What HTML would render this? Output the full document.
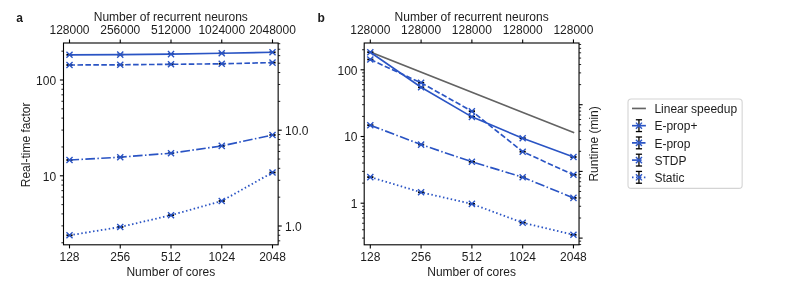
<!DOCTYPE html>
<html><head><meta charset="utf-8"><title>Figure</title>
<style>html,body{margin:0;padding:0;background:#fff}svg{display:block;will-change:transform}</style></head>
<body>
<svg width="793" height="288" viewBox="0 0 793 288" font-family="'Liberation Sans', sans-serif" fill="#1c1c1c">
<rect width="793" height="288" fill="#fff"/>
<line x1="69.50" y1="43.00" x2="69.50" y2="39.40" stroke="#000" stroke-width="1.1" />
<line x1="69.50" y1="244.80" x2="69.50" y2="248.40" stroke="#000" stroke-width="1.1" />
<text x="69.50" y="33.70" text-anchor="middle" font-weight="normal" font-size="12.0" >128000</text>
<text x="69.50" y="260.50" text-anchor="middle" font-weight="normal" font-size="12.0" >128</text>
<line x1="120.25" y1="43.00" x2="120.25" y2="39.40" stroke="#000" stroke-width="1.1" />
<line x1="120.25" y1="244.80" x2="120.25" y2="248.40" stroke="#000" stroke-width="1.1" />
<text x="120.25" y="33.70" text-anchor="middle" font-weight="normal" font-size="12.0" >256000</text>
<text x="120.25" y="260.50" text-anchor="middle" font-weight="normal" font-size="12.0" >256</text>
<line x1="171.00" y1="43.00" x2="171.00" y2="39.40" stroke="#000" stroke-width="1.1" />
<line x1="171.00" y1="244.80" x2="171.00" y2="248.40" stroke="#000" stroke-width="1.1" />
<text x="171.00" y="33.70" text-anchor="middle" font-weight="normal" font-size="12.0" >512000</text>
<text x="171.00" y="260.50" text-anchor="middle" font-weight="normal" font-size="12.0" >512</text>
<line x1="221.75" y1="43.00" x2="221.75" y2="39.40" stroke="#000" stroke-width="1.1" />
<line x1="221.75" y1="244.80" x2="221.75" y2="248.40" stroke="#000" stroke-width="1.1" />
<text x="221.75" y="33.70" text-anchor="middle" font-weight="normal" font-size="12.0" >1024000</text>
<text x="221.75" y="260.50" text-anchor="middle" font-weight="normal" font-size="12.0" >1024</text>
<line x1="272.50" y1="43.00" x2="272.50" y2="39.40" stroke="#000" stroke-width="1.1" />
<line x1="272.50" y1="244.80" x2="272.50" y2="248.40" stroke="#000" stroke-width="1.1" />
<text x="272.50" y="33.70" text-anchor="middle" font-weight="normal" font-size="12.0" >2048000</text>
<text x="272.50" y="260.50" text-anchor="middle" font-weight="normal" font-size="12.0" >2048</text>
<text x="170.82" y="21.10" text-anchor="middle" font-weight="normal" font-size="12.0" >Number of recurrent neurons</text>
<text x="170.82" y="275.90" text-anchor="middle" font-weight="normal" font-size="12.0" >Number of cores</text>
<line x1="63.50" y1="175.80" x2="59.90" y2="175.80" stroke="#000" stroke-width="1.1" />
<text x="56.10" y="180.65" text-anchor="end" font-weight="normal" font-size="12.0" >10</text>
<line x1="63.50" y1="80.00" x2="59.90" y2="80.00" stroke="#000" stroke-width="1.1" />
<text x="56.10" y="84.85" text-anchor="end" font-weight="normal" font-size="12.0" >100</text>
<line x1="63.50" y1="242.76" x2="61.40" y2="242.76" stroke="#000" stroke-width="0.85" />
<line x1="63.50" y1="225.89" x2="61.40" y2="225.89" stroke="#000" stroke-width="0.85" />
<line x1="63.50" y1="213.92" x2="61.40" y2="213.92" stroke="#000" stroke-width="0.85" />
<line x1="63.50" y1="204.64" x2="61.40" y2="204.64" stroke="#000" stroke-width="0.85" />
<line x1="63.50" y1="197.05" x2="61.40" y2="197.05" stroke="#000" stroke-width="0.85" />
<line x1="63.50" y1="190.64" x2="61.40" y2="190.64" stroke="#000" stroke-width="0.85" />
<line x1="63.50" y1="185.08" x2="61.40" y2="185.08" stroke="#000" stroke-width="0.85" />
<line x1="63.50" y1="180.18" x2="61.40" y2="180.18" stroke="#000" stroke-width="0.85" />
<line x1="63.50" y1="146.96" x2="61.40" y2="146.96" stroke="#000" stroke-width="0.85" />
<line x1="63.50" y1="130.09" x2="61.40" y2="130.09" stroke="#000" stroke-width="0.85" />
<line x1="63.50" y1="118.12" x2="61.40" y2="118.12" stroke="#000" stroke-width="0.85" />
<line x1="63.50" y1="108.84" x2="61.40" y2="108.84" stroke="#000" stroke-width="0.85" />
<line x1="63.50" y1="101.25" x2="61.40" y2="101.25" stroke="#000" stroke-width="0.85" />
<line x1="63.50" y1="94.84" x2="61.40" y2="94.84" stroke="#000" stroke-width="0.85" />
<line x1="63.50" y1="89.28" x2="61.40" y2="89.28" stroke="#000" stroke-width="0.85" />
<line x1="63.50" y1="84.38" x2="61.40" y2="84.38" stroke="#000" stroke-width="0.85" />
<line x1="63.50" y1="51.16" x2="61.40" y2="51.16" stroke="#000" stroke-width="0.85" />
<line x1="278.15" y1="226.00" x2="281.75" y2="226.00" stroke="#000" stroke-width="1.1" />
<text x="285.05" y="230.85" text-anchor="start" font-weight="normal" font-size="12.0" >1.0</text>
<line x1="278.15" y1="130.20" x2="281.75" y2="130.20" stroke="#000" stroke-width="1.1" />
<text x="285.05" y="135.05" text-anchor="start" font-weight="normal" font-size="12.0" >10.0</text>
<line x1="278.15" y1="240.84" x2="280.25" y2="240.84" stroke="#000" stroke-width="0.85" />
<line x1="278.15" y1="235.28" x2="280.25" y2="235.28" stroke="#000" stroke-width="0.85" />
<line x1="278.15" y1="230.38" x2="280.25" y2="230.38" stroke="#000" stroke-width="0.85" />
<line x1="278.15" y1="197.16" x2="280.25" y2="197.16" stroke="#000" stroke-width="0.85" />
<line x1="278.15" y1="180.29" x2="280.25" y2="180.29" stroke="#000" stroke-width="0.85" />
<line x1="278.15" y1="168.32" x2="280.25" y2="168.32" stroke="#000" stroke-width="0.85" />
<line x1="278.15" y1="159.04" x2="280.25" y2="159.04" stroke="#000" stroke-width="0.85" />
<line x1="278.15" y1="151.45" x2="280.25" y2="151.45" stroke="#000" stroke-width="0.85" />
<line x1="278.15" y1="145.04" x2="280.25" y2="145.04" stroke="#000" stroke-width="0.85" />
<line x1="278.15" y1="139.48" x2="280.25" y2="139.48" stroke="#000" stroke-width="0.85" />
<line x1="278.15" y1="134.58" x2="280.25" y2="134.58" stroke="#000" stroke-width="0.85" />
<line x1="278.15" y1="101.36" x2="280.25" y2="101.36" stroke="#000" stroke-width="0.85" />
<line x1="278.15" y1="84.49" x2="280.25" y2="84.49" stroke="#000" stroke-width="0.85" />
<line x1="278.15" y1="72.52" x2="280.25" y2="72.52" stroke="#000" stroke-width="0.85" />
<line x1="278.15" y1="63.24" x2="280.25" y2="63.24" stroke="#000" stroke-width="0.85" />
<line x1="278.15" y1="55.65" x2="280.25" y2="55.65" stroke="#000" stroke-width="0.85" />
<line x1="278.15" y1="49.24" x2="280.25" y2="49.24" stroke="#000" stroke-width="0.85" />
<line x1="278.15" y1="43.68" x2="280.25" y2="43.68" stroke="#000" stroke-width="0.85" />
<rect x="63.50" y="43.00" width="214.65" height="201.80" fill="none" stroke="#000" stroke-width="1.1"/>
<text transform="translate(30.00,144.90) rotate(-90)" text-anchor="middle" font-size="12.0">Real-time factor</text>
<text x="16.30" y="21.80" text-anchor="start" font-weight="bold" font-size="12.0" >a</text>
<line x1="66.40" y1="54.80" x2="72.60" y2="54.80" stroke="#000" stroke-width="1.8" />
<line x1="117.15" y1="54.60" x2="123.35" y2="54.60" stroke="#000" stroke-width="1.8" />
<line x1="167.90" y1="54.10" x2="174.10" y2="54.10" stroke="#000" stroke-width="1.8" />
<line x1="218.65" y1="53.30" x2="224.85" y2="53.30" stroke="#000" stroke-width="1.8" />
<line x1="269.40" y1="52.30" x2="275.60" y2="52.30" stroke="#000" stroke-width="1.8" />
<polyline points="69.50,54.80 120.25,54.60 171.00,54.10 221.75,53.30 272.50,52.30" fill="none" stroke="#2a54c4" stroke-width="1.65" stroke-linejoin="round" stroke-linecap="square" />
<path d="M66.45 51.75L72.55 57.85M66.45 57.85L72.55 51.75" stroke="#2a54c4" stroke-width="1.35" fill="none"/>
<path d="M117.20 51.55L123.30 57.65M117.20 57.65L123.30 51.55" stroke="#2a54c4" stroke-width="1.35" fill="none"/>
<path d="M167.95 51.05L174.05 57.15M167.95 57.15L174.05 51.05" stroke="#2a54c4" stroke-width="1.35" fill="none"/>
<path d="M218.70 50.25L224.80 56.35M218.70 56.35L224.80 50.25" stroke="#2a54c4" stroke-width="1.35" fill="none"/>
<path d="M269.45 49.25L275.55 55.35M269.45 55.35L275.55 49.25" stroke="#2a54c4" stroke-width="1.35" fill="none"/>
<line x1="66.40" y1="65.00" x2="72.60" y2="65.00" stroke="#000" stroke-width="1.8" />
<line x1="117.15" y1="64.80" x2="123.35" y2="64.80" stroke="#000" stroke-width="1.8" />
<line x1="167.90" y1="64.30" x2="174.10" y2="64.30" stroke="#000" stroke-width="1.8" />
<line x1="218.65" y1="63.80" x2="224.85" y2="63.80" stroke="#000" stroke-width="1.8" />
<line x1="269.40" y1="62.60" x2="275.60" y2="62.60" stroke="#000" stroke-width="1.8" />
<polyline points="69.50,65.00 120.25,64.80 171.00,64.30 221.75,63.80 272.50,62.60" fill="none" stroke="#2a54c4" stroke-width="1.65" stroke-linejoin="round"  stroke-dasharray="5.55 2.40"/>
<path d="M66.45 61.95L72.55 68.05M66.45 68.05L72.55 61.95" stroke="#2a54c4" stroke-width="1.35" fill="none"/>
<path d="M117.20 61.75L123.30 67.85M117.20 67.85L123.30 61.75" stroke="#2a54c4" stroke-width="1.35" fill="none"/>
<path d="M167.95 61.25L174.05 67.35M167.95 67.35L174.05 61.25" stroke="#2a54c4" stroke-width="1.35" fill="none"/>
<path d="M218.70 60.75L224.80 66.85M218.70 66.85L224.80 60.75" stroke="#2a54c4" stroke-width="1.35" fill="none"/>
<path d="M269.45 59.55L275.55 65.65M269.45 65.65L275.55 59.55" stroke="#2a54c4" stroke-width="1.35" fill="none"/>
<line x1="66.40" y1="160.00" x2="72.60" y2="160.00" stroke="#000" stroke-width="1.8" />
<line x1="117.15" y1="157.20" x2="123.35" y2="157.20" stroke="#000" stroke-width="1.8" />
<line x1="167.90" y1="153.20" x2="174.10" y2="153.20" stroke="#000" stroke-width="1.8" />
<line x1="218.65" y1="145.90" x2="224.85" y2="145.90" stroke="#000" stroke-width="1.8" />
<line x1="269.40" y1="135.00" x2="275.60" y2="135.00" stroke="#000" stroke-width="1.8" />
<polyline points="69.50,160.00 120.25,157.20 171.00,153.20 221.75,145.90 272.50,135.00" fill="none" stroke="#2a54c4" stroke-width="1.65" stroke-linejoin="round"  stroke-dasharray="9.60 2.40 1.50 2.40"/>
<path d="M66.45 156.95L72.55 163.05M66.45 163.05L72.55 156.95" stroke="#2a54c4" stroke-width="1.35" fill="none"/>
<path d="M117.20 154.15L123.30 160.25M117.20 160.25L123.30 154.15" stroke="#2a54c4" stroke-width="1.35" fill="none"/>
<path d="M167.95 150.15L174.05 156.25M167.95 156.25L174.05 150.15" stroke="#2a54c4" stroke-width="1.35" fill="none"/>
<path d="M218.70 142.85L224.80 148.95M218.70 148.95L224.80 142.85" stroke="#2a54c4" stroke-width="1.35" fill="none"/>
<path d="M269.45 131.95L275.55 138.05M269.45 138.05L275.55 131.95" stroke="#2a54c4" stroke-width="1.35" fill="none"/>
<line x1="66.40" y1="235.30" x2="72.60" y2="235.30" stroke="#000" stroke-width="1.8" />
<line x1="117.15" y1="227.00" x2="123.35" y2="227.00" stroke="#000" stroke-width="1.8" />
<line x1="167.90" y1="215.20" x2="174.10" y2="215.20" stroke="#000" stroke-width="1.8" />
<line x1="218.65" y1="201.00" x2="224.85" y2="201.00" stroke="#000" stroke-width="1.8" />
<line x1="269.40" y1="172.50" x2="275.60" y2="172.50" stroke="#000" stroke-width="1.8" />
<polyline points="69.50,235.30 120.25,227.00 171.00,215.20 221.75,201.00 272.50,172.50" fill="none" stroke="#2a54c4" stroke-width="1.8" stroke-linejoin="round"  stroke-dasharray="1.50 2.47"/>
<path d="M66.45 232.25L72.55 238.35M66.45 238.35L72.55 232.25" stroke="#2a54c4" stroke-width="1.35" fill="none"/>
<path d="M117.20 223.95L123.30 230.05M117.20 230.05L123.30 223.95" stroke="#2a54c4" stroke-width="1.35" fill="none"/>
<path d="M167.95 212.15L174.05 218.25M167.95 218.25L174.05 212.15" stroke="#2a54c4" stroke-width="1.35" fill="none"/>
<path d="M218.70 197.95L224.80 204.05M218.70 204.05L224.80 197.95" stroke="#2a54c4" stroke-width="1.35" fill="none"/>
<path d="M269.45 169.45L275.55 175.55M269.45 175.55L275.55 169.45" stroke="#2a54c4" stroke-width="1.35" fill="none"/>
<line x1="370.30" y1="43.00" x2="370.30" y2="39.40" stroke="#000" stroke-width="1.1" />
<line x1="370.30" y1="244.80" x2="370.30" y2="248.40" stroke="#000" stroke-width="1.1" />
<text x="370.30" y="33.70" text-anchor="middle" font-weight="normal" font-size="12.0" >128000</text>
<text x="370.30" y="260.50" text-anchor="middle" font-weight="normal" font-size="12.0" >128</text>
<line x1="421.09" y1="43.00" x2="421.09" y2="39.40" stroke="#000" stroke-width="1.1" />
<line x1="421.09" y1="244.80" x2="421.09" y2="248.40" stroke="#000" stroke-width="1.1" />
<text x="421.09" y="33.70" text-anchor="middle" font-weight="normal" font-size="12.0" >128000</text>
<text x="421.09" y="260.50" text-anchor="middle" font-weight="normal" font-size="12.0" >256</text>
<line x1="471.88" y1="43.00" x2="471.88" y2="39.40" stroke="#000" stroke-width="1.1" />
<line x1="471.88" y1="244.80" x2="471.88" y2="248.40" stroke="#000" stroke-width="1.1" />
<text x="471.88" y="33.70" text-anchor="middle" font-weight="normal" font-size="12.0" >128000</text>
<text x="471.88" y="260.50" text-anchor="middle" font-weight="normal" font-size="12.0" >512</text>
<line x1="522.67" y1="43.00" x2="522.67" y2="39.40" stroke="#000" stroke-width="1.1" />
<line x1="522.67" y1="244.80" x2="522.67" y2="248.40" stroke="#000" stroke-width="1.1" />
<text x="522.67" y="33.70" text-anchor="middle" font-weight="normal" font-size="12.0" >128000</text>
<text x="522.67" y="260.50" text-anchor="middle" font-weight="normal" font-size="12.0" >1024</text>
<line x1="573.46" y1="43.00" x2="573.46" y2="39.40" stroke="#000" stroke-width="1.1" />
<line x1="573.46" y1="244.80" x2="573.46" y2="248.40" stroke="#000" stroke-width="1.1" />
<text x="573.46" y="33.70" text-anchor="middle" font-weight="normal" font-size="12.0" >128000</text>
<text x="573.46" y="260.50" text-anchor="middle" font-weight="normal" font-size="12.0" >2048</text>
<text x="471.62" y="21.10" text-anchor="middle" font-weight="normal" font-size="12.0" >Number of recurrent neurons</text>
<text x="471.62" y="275.90" text-anchor="middle" font-weight="normal" font-size="12.0" >Number of cores</text>
<line x1="364.20" y1="203.20" x2="360.60" y2="203.20" stroke="#000" stroke-width="1.1" />
<text x="357.50" y="208.05" text-anchor="end" font-weight="normal" font-size="12.0" >1</text>
<line x1="364.20" y1="136.50" x2="360.60" y2="136.50" stroke="#000" stroke-width="1.1" />
<text x="357.50" y="141.35" text-anchor="end" font-weight="normal" font-size="12.0" >10</text>
<line x1="364.20" y1="69.80" x2="360.60" y2="69.80" stroke="#000" stroke-width="1.1" />
<text x="357.50" y="74.65" text-anchor="end" font-weight="normal" font-size="12.0" >100</text>
<line x1="364.20" y1="238.08" x2="362.10" y2="238.08" stroke="#000" stroke-width="0.85" />
<line x1="364.20" y1="229.74" x2="362.10" y2="229.74" stroke="#000" stroke-width="0.85" />
<line x1="364.20" y1="223.28" x2="362.10" y2="223.28" stroke="#000" stroke-width="0.85" />
<line x1="364.20" y1="218.00" x2="362.10" y2="218.00" stroke="#000" stroke-width="0.85" />
<line x1="364.20" y1="213.53" x2="362.10" y2="213.53" stroke="#000" stroke-width="0.85" />
<line x1="364.20" y1="209.66" x2="362.10" y2="209.66" stroke="#000" stroke-width="0.85" />
<line x1="364.20" y1="206.25" x2="362.10" y2="206.25" stroke="#000" stroke-width="0.85" />
<line x1="364.20" y1="183.12" x2="362.10" y2="183.12" stroke="#000" stroke-width="0.85" />
<line x1="364.20" y1="171.38" x2="362.10" y2="171.38" stroke="#000" stroke-width="0.85" />
<line x1="364.20" y1="163.04" x2="362.10" y2="163.04" stroke="#000" stroke-width="0.85" />
<line x1="364.20" y1="156.58" x2="362.10" y2="156.58" stroke="#000" stroke-width="0.85" />
<line x1="364.20" y1="151.30" x2="362.10" y2="151.30" stroke="#000" stroke-width="0.85" />
<line x1="364.20" y1="146.83" x2="362.10" y2="146.83" stroke="#000" stroke-width="0.85" />
<line x1="364.20" y1="142.96" x2="362.10" y2="142.96" stroke="#000" stroke-width="0.85" />
<line x1="364.20" y1="139.55" x2="362.10" y2="139.55" stroke="#000" stroke-width="0.85" />
<line x1="364.20" y1="116.42" x2="362.10" y2="116.42" stroke="#000" stroke-width="0.85" />
<line x1="364.20" y1="104.68" x2="362.10" y2="104.68" stroke="#000" stroke-width="0.85" />
<line x1="364.20" y1="96.34" x2="362.10" y2="96.34" stroke="#000" stroke-width="0.85" />
<line x1="364.20" y1="89.88" x2="362.10" y2="89.88" stroke="#000" stroke-width="0.85" />
<line x1="364.20" y1="84.60" x2="362.10" y2="84.60" stroke="#000" stroke-width="0.85" />
<line x1="364.20" y1="80.13" x2="362.10" y2="80.13" stroke="#000" stroke-width="0.85" />
<line x1="364.20" y1="76.26" x2="362.10" y2="76.26" stroke="#000" stroke-width="0.85" />
<line x1="364.20" y1="72.85" x2="362.10" y2="72.85" stroke="#000" stroke-width="0.85" />
<line x1="364.20" y1="49.72" x2="362.10" y2="49.72" stroke="#000" stroke-width="0.85" />
<line x1="579.03" y1="238.10" x2="582.63" y2="238.10" stroke="#000" stroke-width="1.1" />
<line x1="579.03" y1="171.40" x2="582.63" y2="171.40" stroke="#000" stroke-width="1.1" />
<line x1="579.03" y1="104.70" x2="582.63" y2="104.70" stroke="#000" stroke-width="1.1" />
<line x1="579.03" y1="244.56" x2="581.13" y2="244.56" stroke="#000" stroke-width="0.85" />
<line x1="579.03" y1="241.15" x2="581.13" y2="241.15" stroke="#000" stroke-width="0.85" />
<line x1="579.03" y1="218.02" x2="581.13" y2="218.02" stroke="#000" stroke-width="0.85" />
<line x1="579.03" y1="206.28" x2="581.13" y2="206.28" stroke="#000" stroke-width="0.85" />
<line x1="579.03" y1="197.94" x2="581.13" y2="197.94" stroke="#000" stroke-width="0.85" />
<line x1="579.03" y1="191.48" x2="581.13" y2="191.48" stroke="#000" stroke-width="0.85" />
<line x1="579.03" y1="186.20" x2="581.13" y2="186.20" stroke="#000" stroke-width="0.85" />
<line x1="579.03" y1="181.73" x2="581.13" y2="181.73" stroke="#000" stroke-width="0.85" />
<line x1="579.03" y1="177.86" x2="581.13" y2="177.86" stroke="#000" stroke-width="0.85" />
<line x1="579.03" y1="174.45" x2="581.13" y2="174.45" stroke="#000" stroke-width="0.85" />
<line x1="579.03" y1="151.32" x2="581.13" y2="151.32" stroke="#000" stroke-width="0.85" />
<line x1="579.03" y1="139.58" x2="581.13" y2="139.58" stroke="#000" stroke-width="0.85" />
<line x1="579.03" y1="131.24" x2="581.13" y2="131.24" stroke="#000" stroke-width="0.85" />
<line x1="579.03" y1="124.78" x2="581.13" y2="124.78" stroke="#000" stroke-width="0.85" />
<line x1="579.03" y1="119.50" x2="581.13" y2="119.50" stroke="#000" stroke-width="0.85" />
<line x1="579.03" y1="115.03" x2="581.13" y2="115.03" stroke="#000" stroke-width="0.85" />
<line x1="579.03" y1="111.16" x2="581.13" y2="111.16" stroke="#000" stroke-width="0.85" />
<line x1="579.03" y1="107.75" x2="581.13" y2="107.75" stroke="#000" stroke-width="0.85" />
<line x1="579.03" y1="84.62" x2="581.13" y2="84.62" stroke="#000" stroke-width="0.85" />
<line x1="579.03" y1="72.88" x2="581.13" y2="72.88" stroke="#000" stroke-width="0.85" />
<line x1="579.03" y1="64.54" x2="581.13" y2="64.54" stroke="#000" stroke-width="0.85" />
<line x1="579.03" y1="58.08" x2="581.13" y2="58.08" stroke="#000" stroke-width="0.85" />
<line x1="579.03" y1="52.80" x2="581.13" y2="52.80" stroke="#000" stroke-width="0.85" />
<line x1="579.03" y1="48.33" x2="581.13" y2="48.33" stroke="#000" stroke-width="0.85" />
<line x1="579.03" y1="44.46" x2="581.13" y2="44.46" stroke="#000" stroke-width="0.85" />
<rect x="364.20" y="43.00" width="214.83" height="201.80" fill="none" stroke="#000" stroke-width="1.1"/>
<text transform="translate(598.30,143.90) rotate(-90)" text-anchor="middle" font-size="12.0">Runtime (min)</text>
<text x="317.40" y="21.80" text-anchor="start" font-weight="bold" font-size="12.0" >b</text>
<line x1="370.30" y1="51.95" x2="573.46" y2="132.5" stroke="#636363" stroke-width="1.65" stroke-linecap="square"/>
<line x1="367.20" y1="52.20" x2="373.40" y2="52.20" stroke="#000" stroke-width="1.8" />
<line x1="417.99" y1="87.30" x2="424.19" y2="87.30" stroke="#000" stroke-width="1.8" />
<line x1="468.78" y1="116.85" x2="474.98" y2="116.85" stroke="#000" stroke-width="1.8" />
<line x1="519.57" y1="138.20" x2="525.77" y2="138.20" stroke="#000" stroke-width="1.8" />
<line x1="570.36" y1="157.00" x2="576.56" y2="157.00" stroke="#000" stroke-width="1.8" />
<polyline points="370.30,52.20 421.09,87.30 471.88,116.85 522.67,138.20 573.46,157.00" fill="none" stroke="#2a54c4" stroke-width="1.65" stroke-linejoin="round" stroke-linecap="square" />
<path d="M367.25 49.15L373.35 55.25M367.25 55.25L373.35 49.15" stroke="#2a54c4" stroke-width="1.35" fill="none"/>
<path d="M418.04 84.25L424.14 90.35M418.04 90.35L424.14 84.25" stroke="#2a54c4" stroke-width="1.35" fill="none"/>
<path d="M468.83 113.80L474.93 119.90M468.83 119.90L474.93 113.80" stroke="#2a54c4" stroke-width="1.35" fill="none"/>
<path d="M519.62 135.15L525.72 141.25M519.62 141.25L525.72 135.15" stroke="#2a54c4" stroke-width="1.35" fill="none"/>
<path d="M570.41 153.95L576.51 160.05M570.41 160.05L576.51 153.95" stroke="#2a54c4" stroke-width="1.35" fill="none"/>
<line x1="367.20" y1="59.50" x2="373.40" y2="59.50" stroke="#000" stroke-width="1.8" />
<line x1="417.99" y1="82.80" x2="424.19" y2="82.80" stroke="#000" stroke-width="1.8" />
<line x1="468.78" y1="111.20" x2="474.98" y2="111.20" stroke="#000" stroke-width="1.8" />
<line x1="519.57" y1="151.70" x2="525.77" y2="151.70" stroke="#000" stroke-width="1.8" />
<line x1="570.36" y1="174.80" x2="576.56" y2="174.80" stroke="#000" stroke-width="1.8" />
<polyline points="370.30,59.50 421.09,82.80 471.88,111.20 522.67,151.70 573.46,174.80" fill="none" stroke="#2a54c4" stroke-width="1.65" stroke-linejoin="round"  stroke-dasharray="5.55 2.40"/>
<path d="M367.25 56.45L373.35 62.55M367.25 62.55L373.35 56.45" stroke="#2a54c4" stroke-width="1.35" fill="none"/>
<path d="M418.04 79.75L424.14 85.85M418.04 85.85L424.14 79.75" stroke="#2a54c4" stroke-width="1.35" fill="none"/>
<path d="M468.83 108.15L474.93 114.25M468.83 114.25L474.93 108.15" stroke="#2a54c4" stroke-width="1.35" fill="none"/>
<path d="M519.62 148.65L525.72 154.75M519.62 154.75L525.72 148.65" stroke="#2a54c4" stroke-width="1.35" fill="none"/>
<path d="M570.41 171.75L576.51 177.85M570.41 177.85L576.51 171.75" stroke="#2a54c4" stroke-width="1.35" fill="none"/>
<line x1="367.20" y1="125.20" x2="373.40" y2="125.20" stroke="#000" stroke-width="1.8" />
<line x1="417.99" y1="144.60" x2="424.19" y2="144.60" stroke="#000" stroke-width="1.8" />
<line x1="468.78" y1="161.80" x2="474.98" y2="161.80" stroke="#000" stroke-width="1.8" />
<line x1="519.57" y1="177.20" x2="525.77" y2="177.20" stroke="#000" stroke-width="1.8" />
<line x1="570.36" y1="197.90" x2="576.56" y2="197.90" stroke="#000" stroke-width="1.8" />
<polyline points="370.30,125.20 421.09,144.60 471.88,161.80 522.67,177.20 573.46,197.90" fill="none" stroke="#2a54c4" stroke-width="1.65" stroke-linejoin="round"  stroke-dasharray="9.60 2.40 1.50 2.40"/>
<path d="M367.25 122.15L373.35 128.25M367.25 128.25L373.35 122.15" stroke="#2a54c4" stroke-width="1.35" fill="none"/>
<path d="M418.04 141.55L424.14 147.65M418.04 147.65L424.14 141.55" stroke="#2a54c4" stroke-width="1.35" fill="none"/>
<path d="M468.83 158.75L474.93 164.85M468.83 164.85L474.93 158.75" stroke="#2a54c4" stroke-width="1.35" fill="none"/>
<path d="M519.62 174.15L525.72 180.25M519.62 180.25L525.72 174.15" stroke="#2a54c4" stroke-width="1.35" fill="none"/>
<path d="M570.41 194.85L576.51 200.95M570.41 200.95L576.51 194.85" stroke="#2a54c4" stroke-width="1.35" fill="none"/>
<line x1="367.20" y1="177.10" x2="373.40" y2="177.10" stroke="#000" stroke-width="1.8" />
<line x1="417.99" y1="192.30" x2="424.19" y2="192.30" stroke="#000" stroke-width="1.8" />
<line x1="468.78" y1="203.90" x2="474.98" y2="203.90" stroke="#000" stroke-width="1.8" />
<line x1="519.57" y1="222.70" x2="525.77" y2="222.70" stroke="#000" stroke-width="1.8" />
<line x1="570.36" y1="234.80" x2="576.56" y2="234.80" stroke="#000" stroke-width="1.8" />
<polyline points="370.30,177.10 421.09,192.30 471.88,203.90 522.67,222.70 573.46,234.80" fill="none" stroke="#2a54c4" stroke-width="1.8" stroke-linejoin="round"  stroke-dasharray="1.50 2.47"/>
<path d="M367.25 174.05L373.35 180.15M367.25 180.15L373.35 174.05" stroke="#2a54c4" stroke-width="1.35" fill="none"/>
<path d="M418.04 189.25L424.14 195.35M418.04 195.35L424.14 189.25" stroke="#2a54c4" stroke-width="1.35" fill="none"/>
<path d="M468.83 200.85L474.93 206.95M468.83 206.95L474.93 200.85" stroke="#2a54c4" stroke-width="1.35" fill="none"/>
<path d="M519.62 219.65L525.72 225.75M519.62 225.75L525.72 219.65" stroke="#2a54c4" stroke-width="1.35" fill="none"/>
<path d="M570.41 231.75L576.51 237.85M570.41 237.85L576.51 231.75" stroke="#2a54c4" stroke-width="1.35" fill="none"/>
<rect x="628" y="98.95" width="114.15" height="89.45" rx="3.2" ry="3.2" fill="#fff" stroke="#d4d4d4" stroke-width="1.1"/>
<line x1="632.00" y1="108.45" x2="645.90" y2="108.45" stroke="#636363" stroke-width="1.65" />
<text x="654.40" y="113.25" text-anchor="start" font-weight="normal" font-size="12.0" >Linear speedup</text>
<line x1="638.95" y1="119.77" x2="638.95" y2="131.57" stroke="#000" stroke-width="1.3" />
<line x1="635.85" y1="119.77" x2="642.05" y2="119.77" stroke="#000" stroke-width="1.3" />
<line x1="635.85" y1="131.57" x2="642.05" y2="131.57" stroke="#000" stroke-width="1.3" />
<line x1="632.0" y1="125.67" x2="645.9" y2="125.67" stroke="#2a54c4" stroke-width="1.65" />
<path d="M635.90 122.62L642.00 128.72M635.90 128.72L642.00 122.62" stroke="#2a54c4" stroke-width="1.35" fill="none"/>
<text x="654.40" y="130.47" text-anchor="start" font-weight="normal" font-size="12.0" >E-prop+</text>
<line x1="638.95" y1="136.99" x2="638.95" y2="148.79" stroke="#000" stroke-width="1.3" />
<line x1="635.85" y1="136.99" x2="642.05" y2="136.99" stroke="#000" stroke-width="1.3" />
<line x1="635.85" y1="148.79" x2="642.05" y2="148.79" stroke="#000" stroke-width="1.3" />
<line x1="632.0" y1="142.89" x2="645.9" y2="142.89" stroke="#2a54c4" stroke-width="1.65" stroke-dasharray="5.55 2.40"/>
<path d="M635.90 139.84L642.00 145.94M635.90 145.94L642.00 139.84" stroke="#2a54c4" stroke-width="1.35" fill="none"/>
<text x="654.40" y="147.69" text-anchor="start" font-weight="normal" font-size="12.0" >E-prop</text>
<line x1="638.95" y1="154.21" x2="638.95" y2="166.01" stroke="#000" stroke-width="1.3" />
<line x1="635.85" y1="154.21" x2="642.05" y2="154.21" stroke="#000" stroke-width="1.3" />
<line x1="635.85" y1="166.01" x2="642.05" y2="166.01" stroke="#000" stroke-width="1.3" />
<line x1="632.0" y1="160.11" x2="641.8" y2="160.11" stroke="#2a54c4" stroke-width="1.65" stroke-dasharray="9.60 2.40 1.50 2.40"/>
<path d="M635.90 157.06L642.00 163.16M635.90 163.16L642.00 157.06" stroke="#2a54c4" stroke-width="1.35" fill="none"/>
<text x="654.40" y="164.91" text-anchor="start" font-weight="normal" font-size="12.0" >STDP</text>
<line x1="638.95" y1="171.43" x2="638.95" y2="183.23" stroke="#000" stroke-width="1.3" />
<line x1="635.85" y1="171.43" x2="642.05" y2="171.43" stroke="#000" stroke-width="1.3" />
<line x1="635.85" y1="183.23" x2="642.05" y2="183.23" stroke="#000" stroke-width="1.3" />
<line x1="632.0" y1="177.33" x2="645.9" y2="177.33" stroke="#2a54c4" stroke-width="1.65" stroke-dasharray="1.50 2.47"/>
<path d="M635.90 174.28L642.00 180.38M635.90 180.38L642.00 174.28" stroke="#2a54c4" stroke-width="1.35" fill="none"/>
<text x="654.40" y="182.13" text-anchor="start" font-weight="normal" font-size="12.0" >Static</text>
</svg>
</body></html>
